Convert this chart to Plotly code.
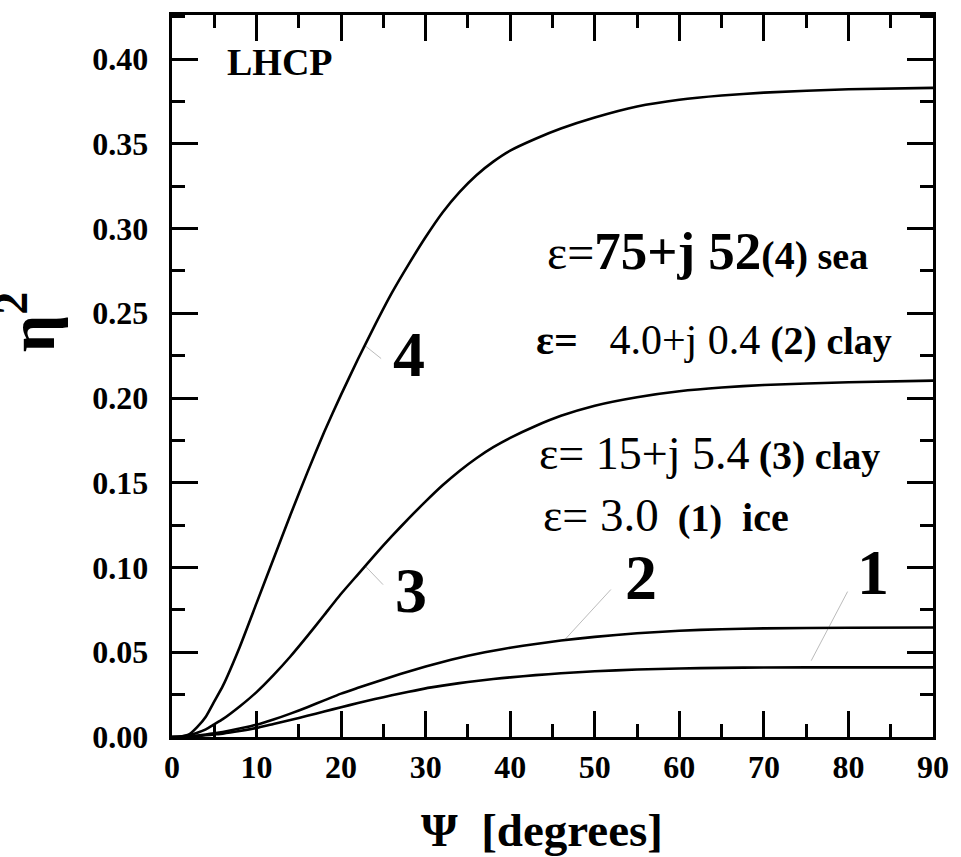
import numpy as np
import plotly.graph_objects as go
from plotly.subplots import make_subplots

# Grazing angle Psi [degrees]
psi = [0, 1, 2, 3, 4, 5, 6, 8, 10, 12, 14, 16, 18, 20, 22, 24, 26, 28, 30,
       32, 34, 36, 38, 40, 43, 46, 50, 55, 60, 65, 70, 80, 90]

# eta^2 for LHCP, one list per surface
eta_ice = [0, 0, 0.0002, 0.0005, 0.001, 0.0015, 0.002, 0.0035, 0.0053, 0.0077,
           0.010, 0.0125, 0.015, 0.0176, 0.020, 0.0224, 0.0246, 0.0267, 0.0287,
           0.0303, 0.0318, 0.033, 0.0342, 0.0352, 0.0365, 0.0376, 0.0388,
           0.0398, 0.0404, 0.0408, 0.041, 0.0411, 0.0411]
eta_clay_dry = [0, 0, 0.0003, 0.0008, 0.0015, 0.0022, 0.003, 0.005, 0.0072,
                0.0103, 0.0138, 0.0176, 0.0216, 0.0256, 0.029, 0.0323, 0.0356,
                0.0387, 0.0416, 0.0443, 0.0468, 0.049, 0.0509, 0.0527, 0.0549,
                0.0569, 0.0591, 0.0612, 0.0627, 0.0636, 0.0641, 0.0645, 0.0646]
eta_clay_wet = [0, 0.0002, 0.001, 0.0025, 0.0045, 0.0075, 0.0105, 0.018,
                0.0265, 0.0365, 0.0475, 0.0595, 0.072, 0.0845, 0.096, 0.1075,
                0.1185, 0.129, 0.139, 0.1485, 0.157, 0.1645, 0.171, 0.1765,
                0.1835, 0.1895, 0.1955, 0.2005, 0.204, 0.2062, 0.2077, 0.2093,
                0.2103]
eta_sea = [0, 0.0003, 0.0015, 0.006, 0.012, 0.021, 0.030, 0.053, 0.079, 0.105,
           0.131, 0.156, 0.180, 0.202, 0.223, 0.243, 0.262, 0.279, 0.295,
           0.3095, 0.3215, 0.3315, 0.3395, 0.346, 0.353, 0.359, 0.3655, 0.372,
           0.376, 0.3785, 0.3802, 0.3822, 0.383]

curves = [eta_ice, eta_clay_dry, eta_clay_wet, eta_sea]
curve_ids = ["1", "2", "3", "4"]

# Curve numbers: (label x, label y, leader start psi, leader end x, leader end y)
label_pos = {
    "4": (28.0, 0.2255, 22.8, 24.73, 0.2233),
    "3": (28.25, 0.0864, 22.85, 24.96, 0.0899),
    "2": (55.5, 0.0941, 46.4, 51.9, 0.087),
    "1": (82.9, 0.0969, 75.6, 79.9, 0.0858),
}

SERIF = "Liberation Serif, Times New Roman, serif"

fig = make_subplots(rows=1, cols=1)
for ys, cid in zip(curves, curve_ids):
    fig.add_trace(go.Scatter(x=psi, y=ys, mode="lines", name=cid,
                             line=dict(color="black", width=2.6, shape="spline",
                                       smoothing=0.5),
                             showlegend=False), row=1, col=1)

for ys, cid in zip(curves, curve_ids):
    lx, ly, sx, ex, ey = label_pos[cid]
    sy = float(np.interp(sx, psi, ys))
    if cid == "1":
        sy += 0.004
    fig.add_shape(type="line", xref="x", yref="y", x0=sx, y0=sy, x1=ex, y1=ey,
                  line=dict(color="#222", width=1))
    fig.add_annotation(x=lx, y=ly, xref="x", yref="y", text="<b>%s</b>" % cid,
                       showarrow=False, xanchor="center", yanchor="middle",
                       font=dict(family=SERIF, size=64, color="black"))


def sp(txt, size, bold=False):
    w = "bold" if bold else "normal"
    return ('<span style="font-size:%dpx;font-weight:%s">%s</span>'
            % (size, w, txt))


NB = "\u00a0"
THIN = "\u2009"
legend_lines = [
    (44.1, 0.2870, sp("ε=", 48) + sp("75+j" + NB + "52", 53, True)
     + sp("(4)", 40, True) + sp(NB + "sea", 38, True)),
    (42.8, 0.2345, sp("ε=", 42, True) + sp(NB + NB + NB + "4.0+j" + NB + "0.4", 42)
     + sp(NB + "(2)", 40, True) + sp(NB + "clay", 38, True)),
    (43.2, 0.1670, sp("ε=", 46) + sp(NB + "15+j" + NB + "5.4" + THIN, 46)
     + sp("(3)", 40, True) + sp(NB + "clay", 38, True)),
    (43.6, 0.1310, sp("ε=", 46) + sp(NB + "3.0", 47)
     + sp(NB + NB + "(1)", 38, True) + sp(NB + NB + "ice", 40, True)),
]
for x, y, txt in legend_lines:
    fig.add_annotation(x=x, y=y, xref="x", yref="y", text=txt,
                       showarrow=False, xanchor="left", yanchor="middle",
                       font=dict(family="Liberation Serif", size=40, color="black"))

fig.add_annotation(x=6.3, y=0.398, xref="x", yref="y", text="<b>LHCP</b>",
                   showarrow=False, xanchor="left", yanchor="middle",
                   font=dict(family=SERIF, size=38, color="black"))

# Axis titles
fig.add_annotation(x=0.486, y=-0.09, xref="paper", yref="paper",
                   text="<b>Ψ" + NB + NB + "[degrees]</b>", showarrow=False,
                   xanchor="center", yanchor="top",
                   font=dict(family=SERIF, size=47, color="black"))
fig.add_annotation(x=-0.19, y=0.575, xref="paper", yref="paper",
                   text="<b>η<sup>2</sup></b>", showarrow=False, textangle=-90,
                   xanchor="center", yanchor="middle",
                   font=dict(family=SERIF, size=66, color="black"))

fig.update_xaxes(range=[0, 90], dtick=10, tick0=0,
                 showline=True, linewidth=3, linecolor="black", mirror="allticks",
                 ticks="inside", ticklen=26, tickwidth=3, tickcolor="black",
                 showgrid=False, zeroline=False,
                 minor=dict(dtick=5, ticks="inside", ticklen=13, tickwidth=3,
                            tickcolor="black", showgrid=False),
                 tickfont=dict(family=SERIF, size=32, color="black", weight="bold"))
fig.update_yaxes(range=[0, 0.426], dtick=0.05, tick0=0, tickformat=".2f",
                 ticksuffix=NB + THIN,
                 showline=True, linewidth=3, linecolor="black", mirror="allticks",
                 ticks="inside", ticklen=26, tickwidth=3, tickcolor="black",
                 showgrid=False, zeroline=False,
                 minor=dict(dtick=0.025, ticks="inside", ticklen=13, tickwidth=3,
                            tickcolor="black", showgrid=False),
                 tickfont=dict(family=SERIF, size=32, color="black", weight="bold"))

fig.update_layout(
    template="simple_white",
    width=961, height=857,
    margin=dict(l=172, r=21, t=12, b=120),
    showlegend=False,
)

fig.write_html("out.html")
